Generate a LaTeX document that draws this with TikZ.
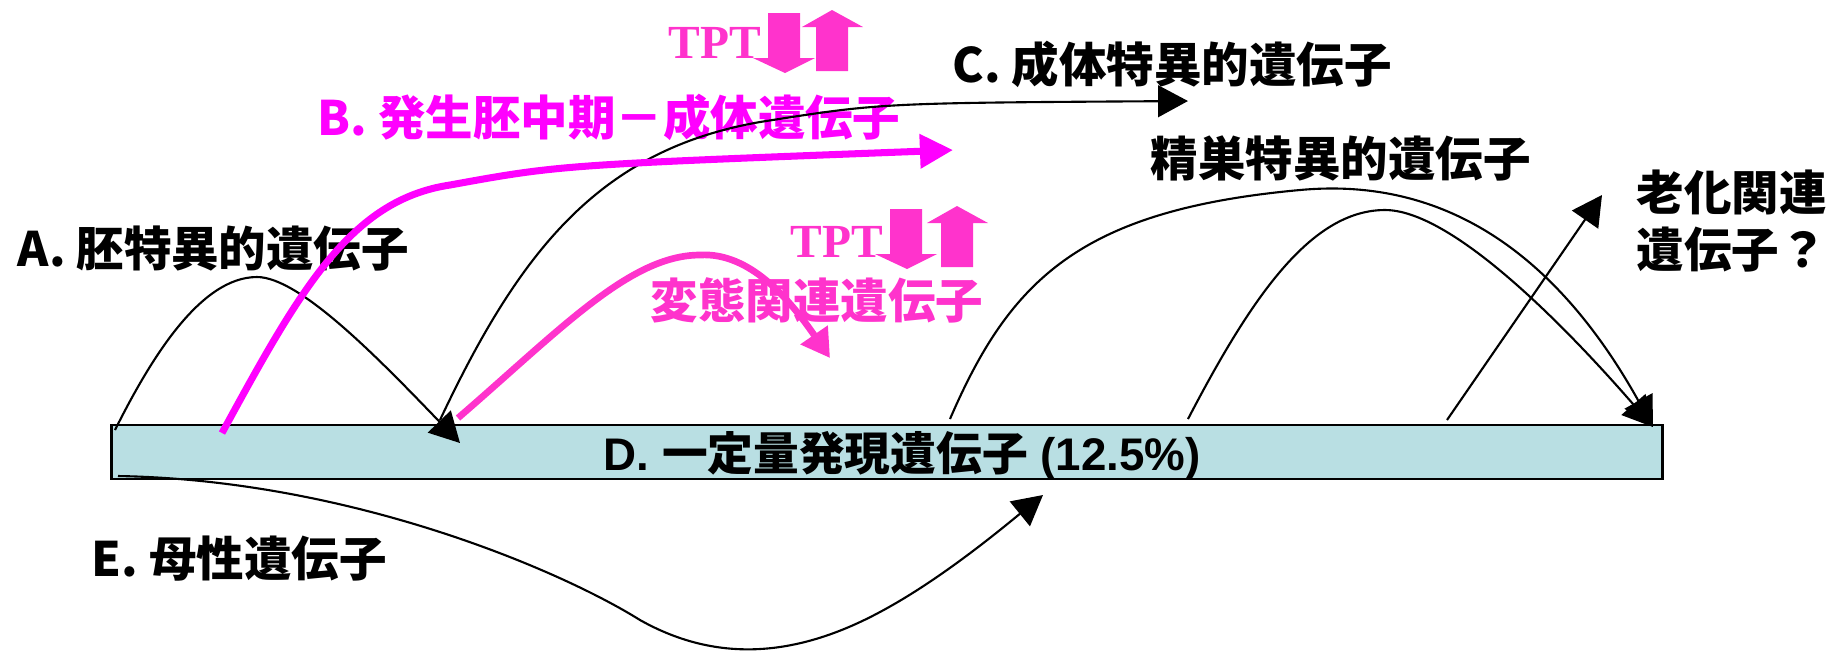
\documentclass[tikz,border=0pt]{standalone}
\usepackage{fontspec}
\setmainfont{Noto Sans CJK JP}
\newfontfamily\tptfont{Liberation Serif}
\newfontfamily\latfont{Liberation Sans}
\usetikzlibrary{arrows.meta}
\definecolor{mag}{RGB}{255,0,255}
\definecolor{pnk}{RGB}{255,51,204}
\definecolor{barfill}{RGB}{185,223,227}
\begin{document}
\begin{tikzpicture}[x=0.01cm,y=-0.01cm,
  lbl/.style={inner sep=0pt, anchor=base west, font=\bfseries\fontsize{13.5pt}{16.2pt}\selectfont},
  tptlbl/.style={inner sep=0pt, anchor=base west, text=pnk, font=\tptfont\bfseries\fontsize{13.5pt}{16pt}\selectfont},
  conn/.style={line width=0.6pt, -{Triangle[length=8.5pt,width=9pt]}},
  magconn/.style={mag, line width=2pt, -{Triangle[length=9.4pt,width=9.4pt]}},
  pnkconn/.style={pnk, line width=1.9pt, -{Triangle[length=8pt,width=9pt]}},
  tptarrow/.style={fill=pnk, draw=none}]
\useasboundingbox (0,0) rectangle (1829,650);

% bar D
\node[draw, line width=0.6pt, fill=barfill, minimum width=15.5cm, minimum height=0.54cm, inner sep=0pt] (bar) at (887,452) {};
\node[inner sep=0pt, anchor=base west, font=\bfseries\fontsize{13pt}{15pt}\selectfont] (labD) at (603,470)
  {{\latfont D. }一定量発現遺伝子{\latfont\ (12.5\%)}};

% labels
\node[lbl] (labA) at (17,266) {A. 胚特異的遺伝子};
\node[lbl, text=mag] (labB) at (317,135) {B. 発生胚中期－成体遺伝子};
\node[lbl] (labC) at (952,82) {C. 成体特異的遺伝子};
\node[lbl] (labS) at (1150,176) {精巣特異的遺伝子};
\node[lbl, text=pnk] (labM) at (650,318) {変態関連遺伝子};
\node[lbl, align=left] (labR) at (1636,267) {老化関連\\遺伝子？};
\node[lbl] (labE) at (91,576) {E. 母性遺伝子};

% TPT groups
\node[tptlbl] (tpt1) at (668,58) {TPT};
\fill[tptarrow] (768,13) -- (800,13) -- (800,58) -- (815,58) -- (785,73) -- (753,58) -- (768,58) -- cycle;
\fill[tptarrow] (816,71) -- (848,71) -- (848,27) -- (863,27) -- (832,10) -- (802,27) -- (816,27) -- cycle;
\node[tptlbl] (tpt2) at (790,257) {TPT};
\begin{scope}[shift={(122,196)}]
\fill[tptarrow] (768,13) -- (800,13) -- (800,58) -- (815,58) -- (785,73) -- (753,58) -- (768,58) -- cycle;
\fill[tptarrow] (819,71) -- (851,71) -- (851,27) -- (866,27) -- (835,10) -- (805,27) -- (819,27) -- cycle;
\end{scope}

% connector end points
\coordinate (aS) at (115,430);
\coordinate (aE) at (460,443);
\coordinate (bS) at (222,433);
\coordinate (bE) at (953,150);
\coordinate (cS) at (440,420);
\coordinate (cE) at (1188,101);
\coordinate (pS) at (458,418);
\coordinate (pE) at (830,358);
\coordinate (gS) at (950,419);
\coordinate (hS) at (1188,419);
\coordinate (gE) at (1653,427);
\coordinate (kS) at (1447,420);
\coordinate (kE) at (1602,195);
\coordinate (eS) at (118,476);
\coordinate (eE) at (1043,495);

% A
\draw[conn] (aS) .. controls (150,360) and (200,277) .. (257,277) .. controls (300,277) and (380,360) .. (aE);
% C
\draw[conn] (cS) .. controls (520,250) and (600,150) .. (760,122) .. controls (880,103) .. (cE);
% B
\draw[magconn] (bS) .. controls (300,290) and (350,200) .. (450,185) .. controls (560,165) .. (bE);
% metamorphosis
\draw[pnkconn] (pS) .. controls (560,330) and (630,255) .. (700,255) .. controls (750,252) and (790,300) .. (pE);
% testis arcs
\draw[conn] (gS) .. controls (1010,280) and (1080,210) .. (1300,190) .. controls (1450,176) and (1560,260) .. (gE);
\draw[conn] (hS) .. controls (1250,300) and (1310,210) .. (1385,210) .. controls (1450,210) and (1560,320) .. (gE);
% aging
\draw[conn] (kS) -- (kE);
% E maternal
\draw[conn] (eS) .. controls (350,480) and (560,570) .. (640,620) .. controls (720,665) and (800,655) .. (880,612) .. controls (940,580) and (1000,530) .. (eE);
\end{tikzpicture}
\end{document}
